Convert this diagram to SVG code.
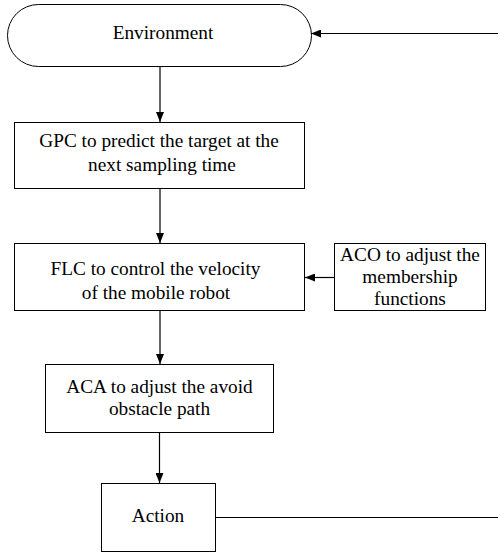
<svg xmlns="http://www.w3.org/2000/svg" width="498" height="554" viewBox="0 0 498 554">
<style>
.box{fill:#fff;stroke:#000;stroke-width:1}
.t{font-family:'Liberation Serif','Times New Roman',Times,'DejaVu Serif',serif;font-size:19.3px;fill:#000;text-anchor:middle}
.c{fill:none;stroke:#000;stroke-width:1.2}
</style>
<defs>
<marker id="ah" viewBox="0 0 10 8" refX="10" refY="4" markerWidth="10" markerHeight="8" markerUnits="userSpaceOnUse" orient="auto">
<path d="M0,0 L10,4 L0,8 Z" fill="#000"/>
</marker>
</defs>
<rect width="498" height="554" fill="#fff"/>
<g id="environment">
<rect class="box" x="7.5" y="4.5" width="304" height="62" rx="31" ry="31"/>
<text class="t" x="163" y="39">Environment</text>
</g>
<g id="gpc">
<rect class="box" x="14.5" y="122.5" width="290" height="66"/>
<text class="t" x="159" y="147">GPC to predict the target at the</text>
<text class="t" x="162" y="171">next sampling time</text>
</g>
<g id="flc">
<rect class="box" x="14.5" y="243.5" width="290" height="67"/>
<text class="t" x="155.5" y="275">FLC to control the velocity</text>
<text class="t" x="156" y="299">of the mobile robot</text>
</g>
<g id="aco">
<rect class="box" x="334.5" y="243.5" width="151" height="67"/>
<text class="t" x="410" y="261">ACO to adjust the</text>
<text class="t" x="410" y="283">membership</text>
<text class="t" x="410" y="305">functions</text>
</g>
<g id="aca">
<rect class="box" x="45.5" y="364.5" width="228" height="68"/>
<text class="t" x="159.5" y="393">ACA to adjust the avoid</text>
<text class="t" x="159.5" y="415">obstacle path</text>
</g>
<g id="action">
<rect class="box" x="101.5" y="483.5" width="114" height="68"/>
<text class="t" x="158" y="522">Action</text>
</g>
<g id="connectors">
<line class="c" x1="160" y1="66" x2="160" y2="122" marker-end="url(#ah)"/>
<line class="c" x1="160" y1="189" x2="160" y2="243" marker-end="url(#ah)"/>
<line class="c" x1="160" y1="311" x2="160" y2="364" marker-end="url(#ah)"/>
<line class="c" x1="159.5" y1="433" x2="159.5" y2="483" marker-end="url(#ah)"/>
<line class="c" x1="334" y1="277.5" x2="305" y2="277.5" marker-end="url(#ah)"/>
<line class="c" x1="216" y1="517.5" x2="498" y2="517.5"/>
<line class="c" x1="498" y1="33.5" x2="311" y2="33.5" marker-end="url(#ah)"/>
</g>
</svg>
